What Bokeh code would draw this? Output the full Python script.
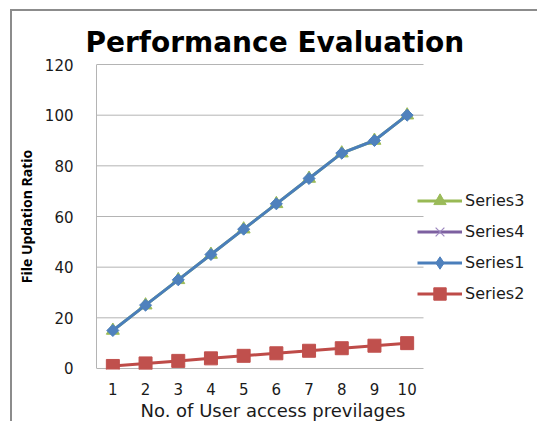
import math
import numpy as np
from bokeh.plotting import figure
from bokeh.models import Legend, LegendItem, FixedTicker, Range1d, Title
from bokeh.embed import file_html
from bokeh.resources import INLINE

# ---- data ----
categories = [1, 2, 3, 4, 5, 6, 7, 8, 9, 10]
series1 = [15, 25, 35, 45, 55, 65, 75, 85, 90, 100]
series2 = [1, 2, 3, 4, 5, 6, 7, 8, 9, 10]
series3 = [15, 25, 35, 45, 55, 65, 75, 85, 90, 100]
series4 = [None, None, None, None, None, None, None, None, None, None]  # no visible values
y_ticks = [0, 20, 40, 60, 80, 100, 120]
title_text = "Performance Evaluation"
x_label = "No. of User access previlages"
y_label = "File Updation Ratio"

BLUE = "#4A7EBB"
BLUE_M = "#4F81BD"
RED = "#BE4B48"
RED_M = "#C0504D"
GREEN = "#98B954"
GREEN_M = "#9BBB59"
PURPLE = "#7D60A0"
GRID = "#b4b4b4"

s4y = np.array(series4, dtype=float)  # missing values -> NaN (not drawn)

x_lo = categories[0] - 0.5
x_hi = categories[-1] + 0.5
# plot area spans 0.5..10.5 (327px); the canvas continues to the right for the legend
x_right = x_hi + 116 / 32.7

p = figure(width=527, height=412, output_backend="svg", toolbar_location=None,
           x_range=Range1d(x_lo, x_right), y_range=Range1d(-0.4, 120.4),
           min_border_left=84, min_border_right=0, min_border_top=52,
           min_border_bottom=54)
p.outline_line_color = None
p.background_fill_color = "white"
p.border_fill_color = "white"
# outer chart-area frame (cut by the window at right and bottom)
p.styles = {"margin-left": "10px", "margin-top": "9px",
            "border-left": "2px solid #8c8c8c", "border-top": "2px solid #8c8c8c"}

# title
p.title.text = title_text
p.title.text_font = "DejaVu Sans"
p.title.text_font_size = "28px"
p.title.text_font_style = "bold"
p.title.text_color = "#000000"
p.title.align = "left"
p.title.offset = -11
p.title.standoff = 10

# axes
p.xaxis.ticker = FixedTicker(ticks=categories)
p.yaxis.ticker = FixedTicker(ticks=y_ticks)
for ax in (p.xaxis[0], p.yaxis[0]):
    ax.major_tick_line_color = None
    ax.minor_tick_line_color = None
    ax.major_tick_in = 0
    ax.major_tick_out = 0
    ax.axis_line_width = 1
    ax.major_label_text_font = "DejaVu Sans"
    ax.major_label_text_font_size = "15px"
    ax.major_label_text_color = "#1a1a1a"

p.xaxis.axis_line_color = None
p.xaxis.bounds = (x_lo, x_hi)
p.xaxis.major_label_standoff = 13

# x-axis title, placed below the axis and aligned under the plot area
xt = Title(text=x_label, align="left", offset=44, standoff=0,
           text_font="DejaVu Sans", text_font_size="18px",
           text_font_style="normal", text_color="#1a1a1a")
p.add_layout(xt, "below")

p.yaxis.axis_line_color = GRID
p.yaxis.bounds = (y_ticks[0], y_ticks[-1])
p.yaxis.major_label_standoff = 23
p.yaxis.axis_label = y_label
p.yaxis.axis_label_text_font = "Open Sans"
p.yaxis.axis_label_text_font_size = "14px"
p.yaxis.axis_label_text_font_style = "bold"
p.yaxis.axis_label_text_color = "#000000"
p.yaxis.axis_label_standoff = 6

p.xgrid.grid_line_color = None
p.ygrid.grid_line_color = None
# horizontal gridlines limited to the plot area
p.segment(x0=[x_lo] * len(y_ticks), x1=[x_hi] * len(y_ticks), y0=y_ticks, y1=y_ticks,
          line_color=GRID, line_width=1)

# series
l4 = p.line(categories, s4y, line_color=PURPLE, line_width=3)
s4 = p.scatter(categories, s4y, marker="x", size=11, line_color="#9b86bd",
               line_width=1.2)

l3 = p.line(categories, series3, line_color=GREEN, line_width=3)
s3 = p.scatter(categories, series3, marker="triangle", size=13,
               fill_color=GREEN_M, line_color=GREEN_M)

l1 = p.line(categories, series1, line_color=BLUE, line_width=3)
s1 = p.scatter(categories, series1, marker="square", angle=math.pi / 4, size=8.5,
               fill_color=BLUE_M, line_color=BLUE_M)
# legend-only diamond (draws nothing in the plot)
s1_leg = p.scatter(categories, s4y, marker="diamond", size=12,
                   fill_color=BLUE_M, line_color=BLUE_M)

l2 = p.line(categories, series2, line_color=RED, line_width=3)
s2 = p.scatter(categories, series2, marker="square", size=13,
               fill_color=RED_M, line_color=RED_M)

legend = Legend(items=[
    LegendItem(label="Series3", renderers=[l3, s3]),
    LegendItem(label="Series4", renderers=[l4, s4]),
    LegendItem(label="Series1", renderers=[l1, s1_leg]),
    LegendItem(label="Series2", renderers=[l2, s2]),
], location=(321, 60), padding=0, margin=0, spacing=0,
    glyph_width=45, glyph_height=31, label_height=31, label_standoff=3,
    border_line_color=None, background_fill_alpha=0,
    label_text_font="DejaVu Sans", label_text_font_size="16px",
    label_text_color="#1a1a1a")
p.add_layout(legend)

open("out.html", "w").write(file_html(p, INLINE))
